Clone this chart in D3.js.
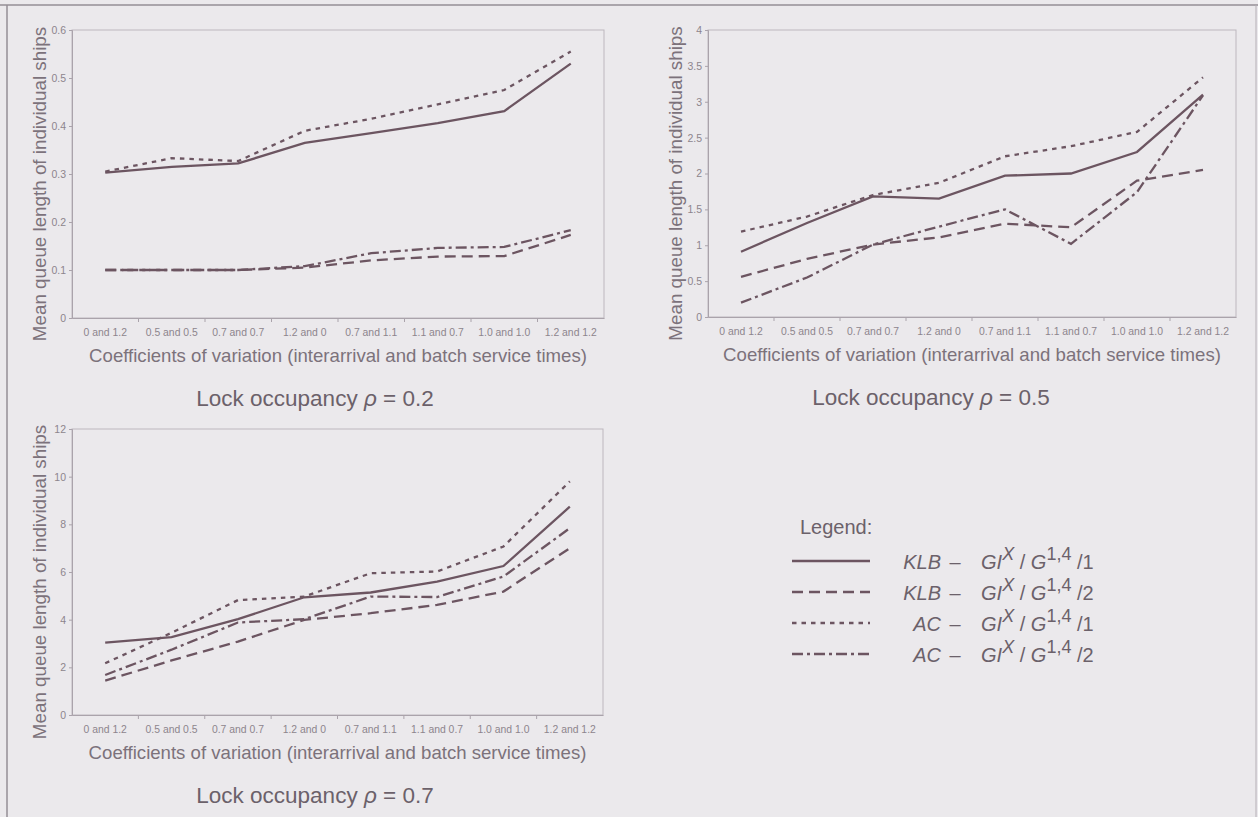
<!DOCTYPE html>
<html>
<head>
<meta charset="utf-8">
<script src="https://cdn.jsdelivr.net/npm/d3@7"></script>
<style>
  body { margin: 0; background: #ebe9ec; }
  svg { display: block; font-family: "Liberation Sans", Arial, sans-serif; }
</style>
</head>
<body>
<svg id="page" width="1258" height="817"></svg>
<script>
// categories (coefficients of variation: interarrival and batch service)
const categories = ["0 and 1.2", "0.5 and 0.5", "0.7 and 0.7", "1.2 and 0",
  "0.7 and 1.1", "1.1 and 0.7", "1.0 and 1.0", "1.2 and 1.2"];

// lock occupancy 0.2
const klb1Rho02 = [0.303, 0.315, 0.322, 0.365, 0.385, 0.406, 0.431, 0.53];
const klb2Rho02 = [0.10, 0.10, 0.10, 0.105, 0.12, 0.128, 0.129, 0.173];
const ac1Rho02  = [0.305, 0.333, 0.327, 0.39, 0.415, 0.445, 0.475, 0.555];
const ac2Rho02  = [0.10, 0.10, 0.10, 0.108, 0.135, 0.146, 0.148, 0.183];
const ticksRho02 = [0, 0.1, 0.2, 0.3, 0.4, 0.5, 0.6];

// lock occupancy 0.5
const klb1Rho05 = [0.91, 1.31, 1.68, 1.65, 1.97, 2.0, 2.3, 3.1];
const klb2Rho05 = [0.56, 0.81, 1.01, 1.11, 1.30, 1.25, 1.90, 2.05];
const ac1Rho05  = [1.19, 1.40, 1.70, 1.87, 2.24, 2.38, 2.58, 3.34];
const ac2Rho05  = [0.20, 0.55, 1.01, 1.26, 1.50, 1.02, 1.74, 3.09];
const ticksRho05 = [0, 0.5, 1, 1.5, 2, 2.5, 3, 3.5, 4];

// lock occupancy 0.7
const klb1Rho07 = [3.04, 3.27, 4.02, 4.94, 5.14, 5.6, 6.25, 8.74];
const klb2Rho07 = [1.44, 2.29, 3.08, 3.99, 4.27, 4.62, 5.18, 7.0];
const ac1Rho07  = [2.17, 3.45, 4.82, 4.97, 5.95, 6.02, 7.07, 9.8];
const ac2Rho07  = [1.68, 2.74, 3.88, 4.02, 4.97, 4.95, 5.81, 7.84];
const ticksRho07 = [0, 2, 4, 6, 8, 10, 12];

const methods = ["KLB", "KLB", "AC", "AC"];
const servers = ["1", "2", "1", "2"];

const lineColor = "#6c5561";
const dashes = [null, "11 6", "4.5 5", "11 4 3 4"];

const svg = d3.select("#page");

// page frame
svg.append("line").attr("x1", 0).attr("x2", 1258).attr("y1", 5).attr("y2", 5)
  .attr("stroke", "#958e96").attr("stroke-width", 1.5);
svg.append("line").attr("x1", 7).attr("x2", 7).attr("y1", 5).attr("y2", 817)
  .attr("stroke", "#958e96").attr("stroke-width", 1.5);
svg.append("line").attr("x1", 1256).attr("x2", 1256).attr("y1", 5).attr("y2", 817)
  .attr("stroke", "#b4aeb5").attr("stroke-width", 1);

function drawChart(box, ticks, series, rhoLabel, titleX) {
  const x = d3.scaleBand().domain(categories).range([box.left, box.right]);
  const y = d3.scaleLinear().domain([0, ticks[ticks.length - 1]]).range([box.bottom, box.top]);
  const g = svg.append("g");

  g.append("rect")
    .attr("x", box.left).attr("y", box.top)
    .attr("width", box.right - box.left).attr("height", box.bottom - box.top)
    .attr("fill", "none").attr("stroke", "#bdb7be").attr("stroke-width", 1);

  const yAxis = g.append("g")
    .attr("transform", `translate(${box.left},0)`)
    .call(d3.axisLeft(y).tickValues(ticks).tickSize(3).tickPadding(3).tickFormat(d3.format("")));
  yAxis.select(".domain").attr("stroke", "#aaa3ab");
  yAxis.selectAll(".tick line").attr("stroke", "#aaa3ab");
  yAxis.selectAll(".tick text").attr("fill", "#8d858d").attr("font-size", 10.5)
    .attr("font-family", "Liberation Sans, Arial, sans-serif");

  const xAxis = g.append("g")
    .attr("transform", `translate(0,${box.bottom})`)
    .call(d3.axisBottom(x).tickSize(0).tickPadding(11));
  xAxis.select(".domain").attr("stroke", "#aaa3ab");
  xAxis.selectAll(".tick text").attr("fill", "#8d858d").attr("font-size", 10.4)
    .attr("font-family", "Liberation Sans, Arial, sans-serif");
  // tick marks between categories
  g.selectAll(".sep")
    .data(categories.slice(1))
    .join("line")
    .attr("x1", d => x(d)).attr("x2", d => x(d))
    .attr("y1", box.bottom).attr("y2", box.bottom + 4)
    .attr("stroke", "#aaa3ab");

  const line = d3.line()
    .x((d, i) => x(categories[i]) + x.bandwidth() / 2)
    .y(d => y(d));

  series.forEach((vals, k) => {
    g.append("path")
      .attr("d", line(vals))
      .attr("fill", "none")
      .attr("stroke", lineColor)
      .attr("stroke-width", 2.3)
      .attr("stroke-dasharray", dashes[k]);
  });

  g.append("text")
    .attr("transform", `translate(${box.left - 26},${(box.top + box.bottom) / 2 + 10}) rotate(-90)`)
    .attr("text-anchor", "middle")
    .attr("fill", "#7c727b").attr("font-size", 18.8)
    .text("Mean queue length of individual ships");

  g.append("text")
    .attr("x", (box.left + box.right) / 2).attr("y", box.bottom + 44)
    .attr("text-anchor", "middle")
    .attr("fill", "#7c727b").attr("font-size", 18.6)
    .text("Coefficients of variation (interarrival and batch service times)");

  const t = g.append("text")
    .attr("x", titleX).attr("y", box.bottom + 88)
    .attr("text-anchor", "middle")
    .attr("fill", "#6b616a").attr("font-size", 22.5);
  t.append("tspan").text("Lock occupancy ");
  t.append("tspan").attr("font-style", "italic").text("\u03c1");
  t.append("tspan").text(" = " + rhoLabel);
}

drawChart({ left: 72, right: 604, top: 30, bottom: 318 }, ticksRho02,
  [klb1Rho02, klb2Rho02, ac1Rho02, ac2Rho02], "0.2", 315);
drawChart({ left: 708, right: 1236, top: 30, bottom: 317 }, ticksRho05,
  [klb1Rho05, klb2Rho05, ac1Rho05, ac2Rho05], "0.5", 931);
drawChart({ left: 72, right: 603, top: 429, bottom: 715 }, ticksRho07,
  [klb1Rho07, klb2Rho07, ac1Rho07, ac2Rho07], "0.7", 315);

// legend
const legend = svg.append("g").attr("fill", "#6b616a");
legend.append("text").attr("x", 800).attr("y", 534).attr("font-size", 20).text("Legend:");

const rowY = [566, 597, 628, 659];
methods.forEach((m, i) => {
  legend.append("line")
    .attr("x1", 792).attr("x2", 870).attr("y1", rowY[i] - 5).attr("y2", rowY[i] - 5)
    .attr("stroke", lineColor).attr("stroke-width", 2.3)
    .attr("stroke-dasharray", dashes[i]);
  legend.append("text").attr("x", 941).attr("y", rowY[i] + 3)
    .attr("text-anchor", "end").attr("font-style", "italic").attr("font-size", 20)
    .text(m);
  legend.append("text").attr("x", 955).attr("y", rowY[i] + 3)
    .attr("text-anchor", "middle").attr("font-size", 20).text("\u2013");
  const t = legend.append("text").attr("x", 981).attr("y", rowY[i] + 3)
    .attr("font-size", 20).attr("font-style", "italic");
  t.append("tspan").text("GI");
  t.append("tspan").attr("dy", -9).attr("font-size", 18).text("X");
  t.append("tspan").attr("dy", 9).attr("font-style", "normal").text(" / ");
  t.append("tspan").text("G");
  t.append("tspan").attr("dy", -9).attr("font-size", 18).attr("font-style", "normal").text("1,4");
  t.append("tspan").attr("dy", 9).attr("font-style", "normal").text(" /" + servers[i]);
});
</script>
</body>
</html>
